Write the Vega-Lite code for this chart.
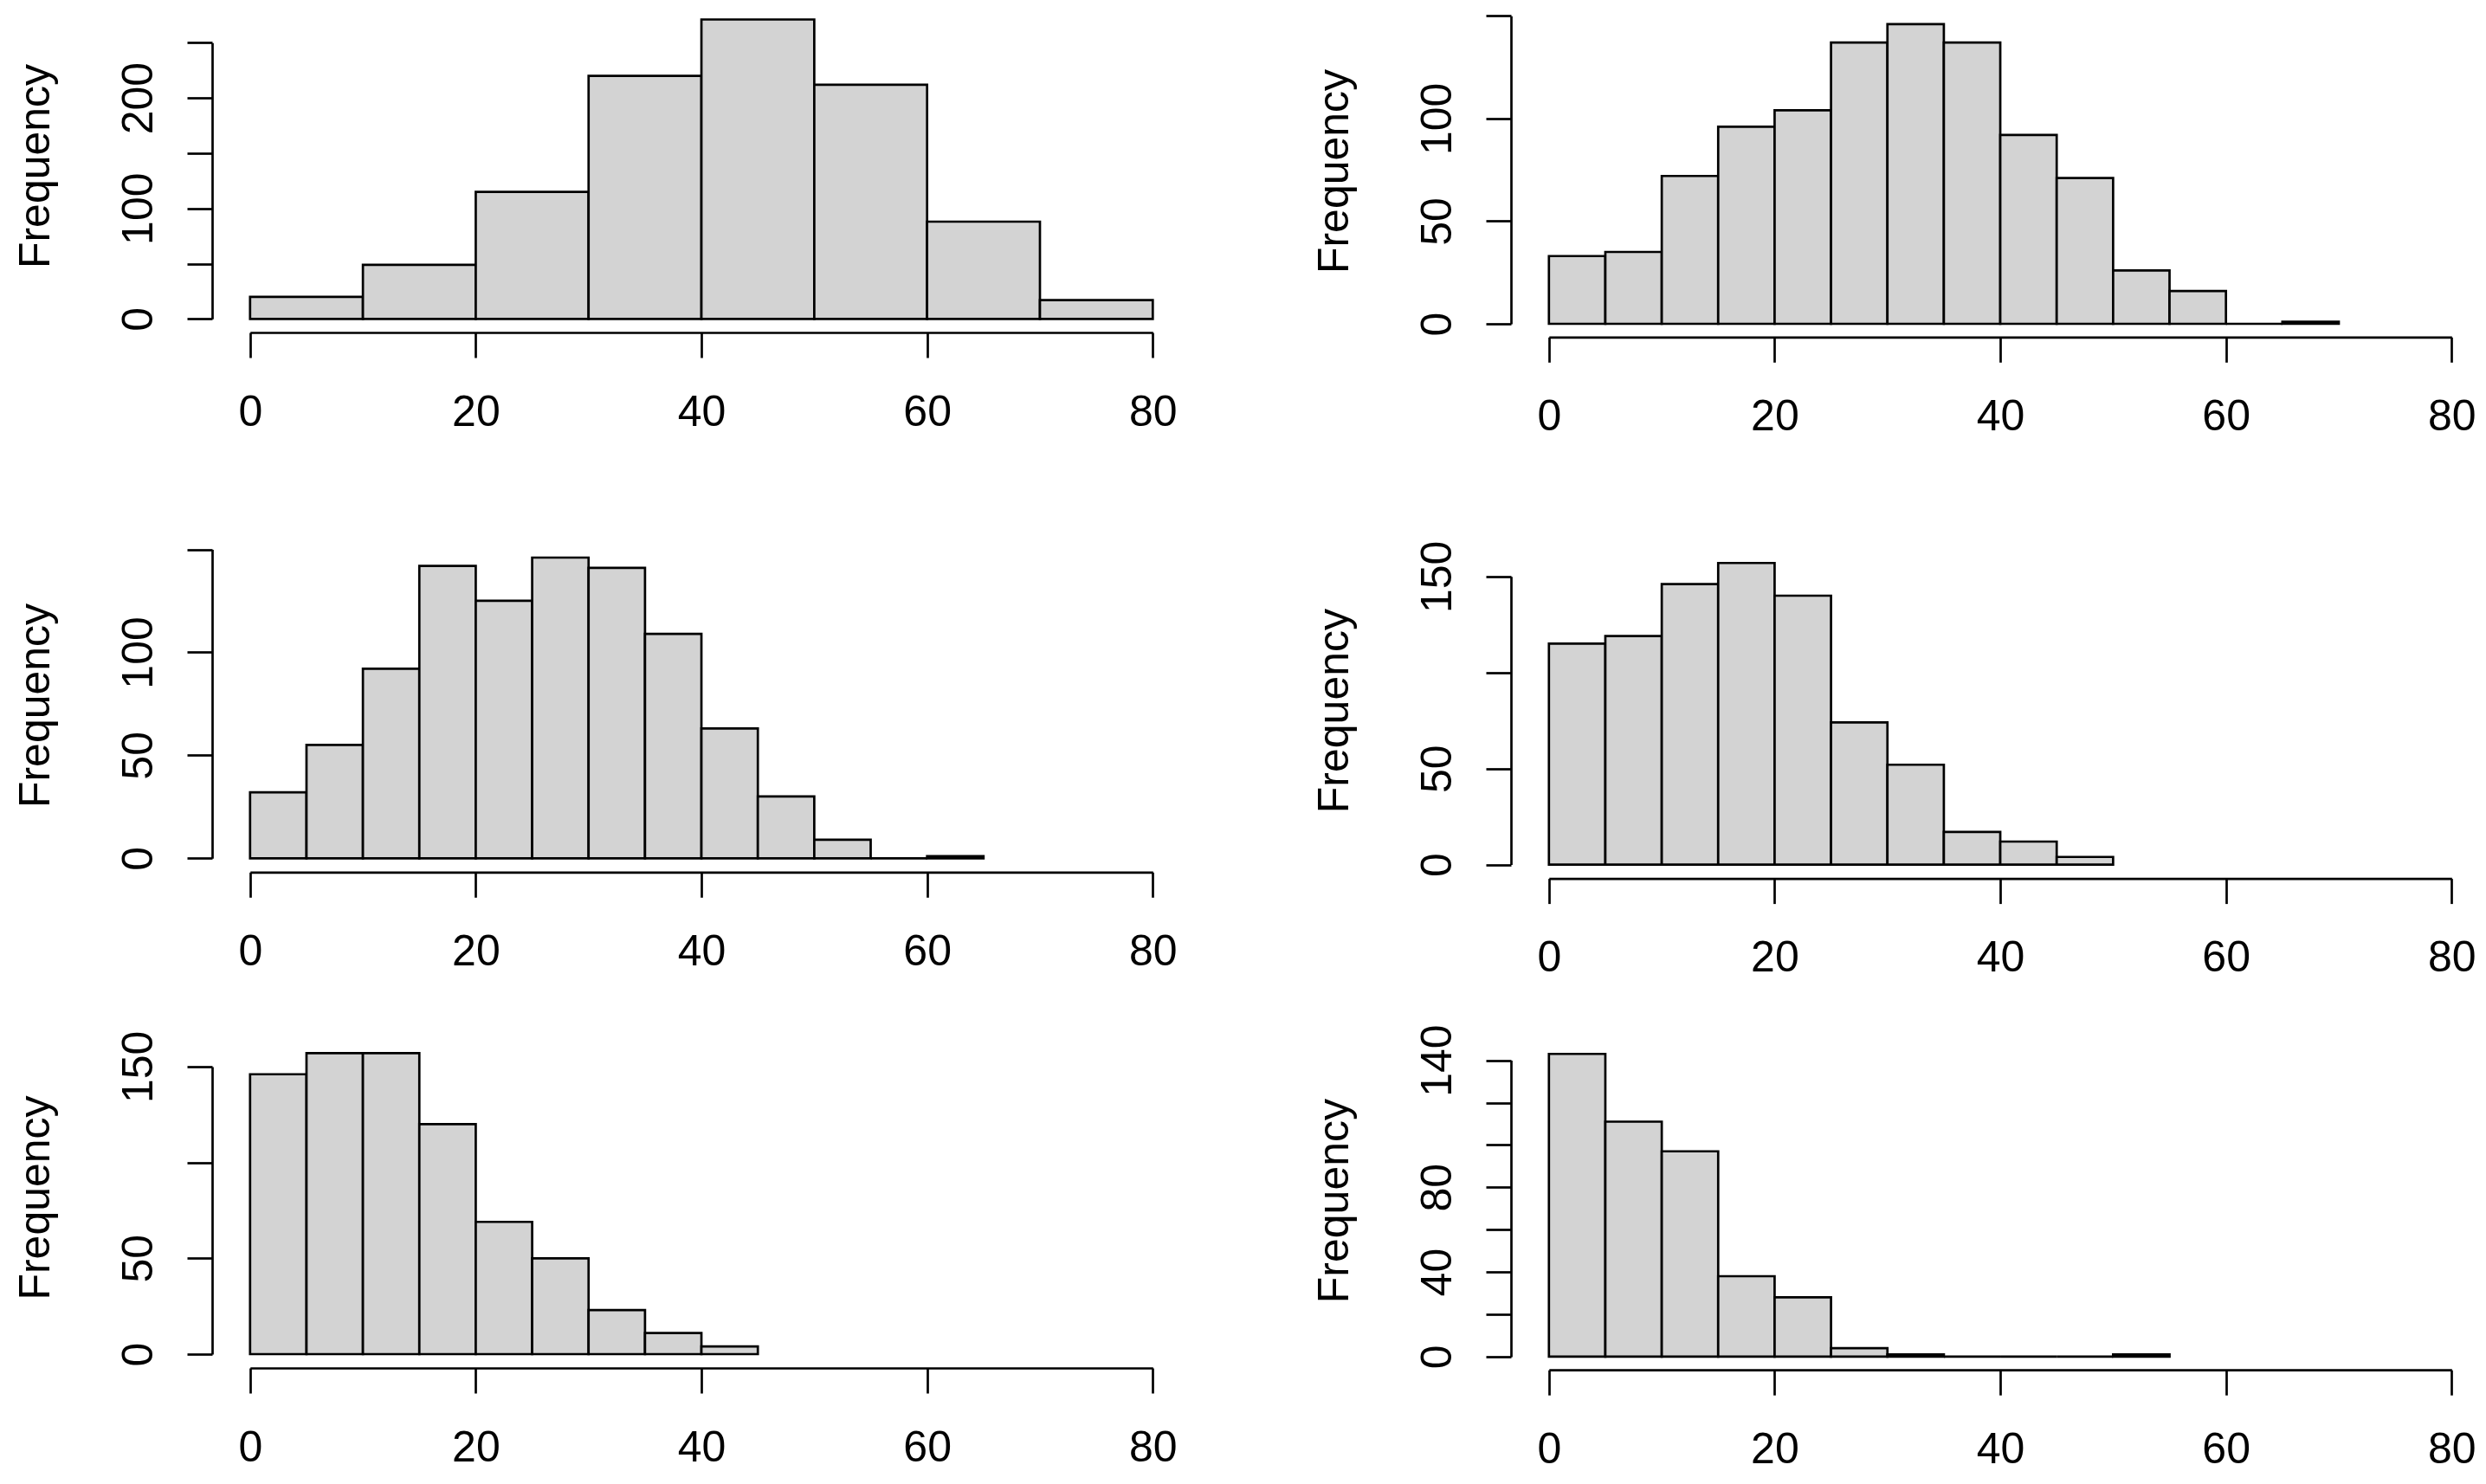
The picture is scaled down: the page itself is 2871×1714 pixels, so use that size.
{
  "$schema": "https://vega.github.io/schema/vega-lite/v6.json",
  "background": "white",
  "padding": {"left": 16, "top": 10, "right": 0, "bottom": 0},
  "config": {
    "view": {"stroke": null},
    "axis": {
      "grid": false,
      "domainColor": "black", "domainWidth": 2.7,
      "tickColor": "black", "tickWidth": 2.7, "tickSize": 29,
      "labelColor": "black", "titleColor": "black",
      "labelFont": "Liberation Sans", "titleFont": "Liberation Sans",
      "labelFontSize": 50, "titleFontSize": 50, "titleFontWeight": "normal",
      "labelOverlap": false, "labelFlush": false, "labelBound": false
    },
    "axisX": {"labelPadding": 78, "labelBaseline": "alphabetic", "labelAngle": 0},
    "axisY": {"labelAngle": 270, "labelAlign": "center", "labelBaseline": "alphabetic", "labelPadding": 41,
              "titleAngle": 270, "titleAlign": "center", "titleBaseline": "alphabetic", "titleX": -189}
  },
  "data": {"values": [
    {"p": 1, "lo": 0, "hi": 10, "n": 20}, {"p": 1, "lo": 10, "hi": 20, "n": 49}, {"p": 1, "lo": 20, "hi": 30, "n": 115},
    {"p": 1, "lo": 30, "hi": 40, "n": 220}, {"p": 1, "lo": 40, "hi": 50, "n": 271}, {"p": 1, "lo": 50, "hi": 60, "n": 212},
    {"p": 1, "lo": 60, "hi": 70, "n": 88}, {"p": 1, "lo": 70, "hi": 80, "n": 17},
    {"p": 2, "lo": 0, "hi": 5, "n": 33}, {"p": 2, "lo": 5, "hi": 10, "n": 35}, {"p": 2, "lo": 10, "hi": 15, "n": 72},
    {"p": 2, "lo": 15, "hi": 20, "n": 96}, {"p": 2, "lo": 20, "hi": 25, "n": 104}, {"p": 2, "lo": 25, "hi": 30, "n": 137},
    {"p": 2, "lo": 30, "hi": 35, "n": 146}, {"p": 2, "lo": 35, "hi": 40, "n": 137}, {"p": 2, "lo": 40, "hi": 45, "n": 92},
    {"p": 2, "lo": 45, "hi": 50, "n": 71}, {"p": 2, "lo": 50, "hi": 55, "n": 26}, {"p": 2, "lo": 55, "hi": 60, "n": 16},
    {"p": 2, "lo": 60, "hi": 65, "n": 0}, {"p": 2, "lo": 65, "hi": 70, "n": 1},
    {"p": 3, "lo": 0, "hi": 5, "n": 32}, {"p": 3, "lo": 5, "hi": 10, "n": 55}, {"p": 3, "lo": 10, "hi": 15, "n": 92},
    {"p": 3, "lo": 15, "hi": 20, "n": 142}, {"p": 3, "lo": 20, "hi": 25, "n": 125}, {"p": 3, "lo": 25, "hi": 30, "n": 146},
    {"p": 3, "lo": 30, "hi": 35, "n": 141}, {"p": 3, "lo": 35, "hi": 40, "n": 109}, {"p": 3, "lo": 40, "hi": 45, "n": 63},
    {"p": 3, "lo": 45, "hi": 50, "n": 30}, {"p": 3, "lo": 50, "hi": 55, "n": 9}, {"p": 3, "lo": 55, "hi": 60, "n": 0},
    {"p": 3, "lo": 60, "hi": 65, "n": 1},
    {"p": 4, "lo": 0, "hi": 5, "n": 115}, {"p": 4, "lo": 5, "hi": 10, "n": 119}, {"p": 4, "lo": 10, "hi": 15, "n": 146},
    {"p": 4, "lo": 15, "hi": 20, "n": 157}, {"p": 4, "lo": 20, "hi": 25, "n": 140}, {"p": 4, "lo": 25, "hi": 30, "n": 74},
    {"p": 4, "lo": 30, "hi": 35, "n": 52}, {"p": 4, "lo": 35, "hi": 40, "n": 17}, {"p": 4, "lo": 40, "hi": 45, "n": 12},
    {"p": 4, "lo": 45, "hi": 50, "n": 4},
    {"p": 5, "lo": 0, "hi": 5, "n": 146}, {"p": 5, "lo": 5, "hi": 10, "n": 157}, {"p": 5, "lo": 10, "hi": 15, "n": 157},
    {"p": 5, "lo": 15, "hi": 20, "n": 120}, {"p": 5, "lo": 20, "hi": 25, "n": 69}, {"p": 5, "lo": 25, "hi": 30, "n": 50},
    {"p": 5, "lo": 30, "hi": 35, "n": 23}, {"p": 5, "lo": 35, "hi": 40, "n": 11}, {"p": 5, "lo": 40, "hi": 45, "n": 4},
    {"p": 6, "lo": 0, "hi": 5, "n": 143}, {"p": 6, "lo": 5, "hi": 10, "n": 111}, {"p": 6, "lo": 10, "hi": 15, "n": 97},
    {"p": 6, "lo": 15, "hi": 20, "n": 38}, {"p": 6, "lo": 20, "hi": 25, "n": 28}, {"p": 6, "lo": 25, "hi": 30, "n": 4},
    {"p": 6, "lo": 30, "hi": 35, "n": 1}, {"p": 6, "lo": 35, "hi": 40, "n": 0}, {"p": 6, "lo": 40, "hi": 45, "n": 0},
    {"p": 6, "lo": 45, "hi": 50, "n": 0}, {"p": 6, "lo": 50, "hi": 55, "n": 1}
  ]},
  "columns": 2,
  "align": "each",
  "bounds": "flush",
  "spacing": {"row": 100, "column": 372},
  "concat": [
    {
      "width": 1128, "height": 374,
      "transform": [{"filter": "datum.p == 1"}],
      "mark": {"type": "bar", "fill": "#d3d3d3", "stroke": "black", "strokeWidth": 2.7},
      "encoding": {
        "x": {"field": "lo", "type": "quantitative", "scale": {"domain": [0, 80], "range": [43.8, 1086.3], "nice": false, "zero": false},
              "axis": {"title": null, "values": [0, 20, 40, 60, 80], "offset": 0}},
        "x2": {"field": "hi"},
        "y": {"field": "n", "type": "quantitative", "scale": {"domain": [0, 250], "range": [358.3, 39.3], "nice": false, "zero": false},
              "axis": {"title": "Frequency", "values": [0, 50, 100, 150, 200, 250], "labelExpr": "datum.value % 100 === 0 ? datum.label : ''", "titleY": 181.5}},
        "y2": {"datum": 0}
      }
    },
    {
      "width": 1128, "height": 374,
      "transform": [{"filter": "datum.p == 2"}],
      "mark": {"type": "bar", "fill": "#d3d3d3", "stroke": "black", "strokeWidth": 2.7},
      "encoding": {
        "x": {"field": "lo", "type": "quantitative", "scale": {"domain": [0, 80], "range": [43.8, 1086.3], "nice": false, "zero": false},
              "axis": {"title": null, "values": [0, 20, 40, 60, 80], "offset": 5.3}},
        "x2": {"field": "hi"},
        "y": {"field": "n", "type": "quantitative", "scale": {"domain": [0, 150], "range": [364, 8.3], "nice": false, "zero": false},
              "axis": {"title": "Frequency", "values": [0, 50, 100, 150], "labelExpr": "datum.value <= 100 ? datum.label : ''", "titleY": 187.5}},
        "y2": {"datum": 0}
      }
    },
    {
      "width": 1128, "height": 523.3,
      "transform": [{"filter": "datum.p == 3"}],
      "mark": {"type": "bar", "fill": "#d3d3d3", "stroke": "black", "strokeWidth": 2.7},
      "encoding": {
        "x": {"field": "lo", "type": "quantitative", "scale": {"domain": [0, 80], "range": [43.8, 1086.3], "nice": false, "zero": false},
              "axis": {"title": null, "values": [0, 20, 40, 60, 80], "offset": 0}},
        "x2": {"field": "hi"},
        "y": {"field": "n", "type": "quantitative", "scale": {"domain": [0, 150], "range": [507.3, 150.5], "nice": false, "zero": false},
              "axis": {"title": "Frequency", "values": [0, 50, 100, 150], "labelExpr": "datum.value <= 100 ? datum.label : ''", "titleY": 330.5}},
        "y2": {"datum": 0}
      }
    },
    {
      "width": 1128, "height": 523.3,
      "transform": [{"filter": "datum.p == 4"}],
      "mark": {"type": "bar", "fill": "#d3d3d3", "stroke": "black", "strokeWidth": 2.7},
      "encoding": {
        "x": {"field": "lo", "type": "quantitative", "scale": {"domain": [0, 80], "range": [43.8, 1086.3], "nice": false, "zero": false},
              "axis": {"title": null, "values": [0, 20, 40, 60, 80], "offset": 7.3}},
        "x2": {"field": "hi"},
        "y": {"field": "n", "type": "quantitative", "scale": {"domain": [0, 150], "range": [514.6, 181.8], "nice": false, "zero": false},
              "axis": {"title": "Frequency", "values": [0, 50, 100, 150], "labelExpr": "datum.value == 100 ? '' : datum.label", "titleY": 336.6}},
        "y2": {"datum": 0}
      }
    },
    {
      "width": 1128, "height": 472,
      "transform": [{"filter": "datum.p == 5"}],
      "mark": {"type": "bar", "fill": "#d3d3d3", "stroke": "black", "strokeWidth": 2.7},
      "encoding": {
        "x": {"field": "lo", "type": "quantitative", "scale": {"domain": [0, 80], "range": [43.8, 1086.3], "nice": false, "zero": false},
              "axis": {"title": null, "values": [0, 20, 40, 60, 80], "offset": 0}},
        "x2": {"field": "hi"},
        "y": {"field": "n", "type": "quantitative", "scale": {"domain": [0, 150], "range": [456, 123.9], "nice": false, "zero": false},
              "axis": {"title": "Frequency", "values": [0, 50, 100, 150], "labelExpr": "datum.value == 100 ? '' : datum.label", "titleY": 275}},
        "y2": {"datum": 0}
      }
    },
    {
      "width": 1128, "height": 472,
      "transform": [{"filter": "datum.p == 6"}],
      "mark": {"type": "bar", "fill": "#d3d3d3", "stroke": "black", "strokeWidth": 2.7},
      "encoding": {
        "x": {"field": "lo", "type": "quantitative", "scale": {"domain": [0, 80], "range": [43.8, 1086.3], "nice": false, "zero": false},
              "axis": {"title": null, "values": [0, 20, 40, 60, 80], "offset": 2.2}},
        "x2": {"field": "hi"},
        "y": {"field": "n", "type": "quantitative", "scale": {"domain": [0, 140], "range": [458.9, 116.6], "nice": false, "zero": false},
              "axis": {"title": "Frequency", "values": [0, 20, 40, 60, 80, 100, 120, 140], "labelExpr": "indexof([0, 40, 80, 140], datum.value) >= 0 ? datum.label : ''", "titleY": 278.6}},
        "y2": {"datum": 0}
      }
    }
  ]
}
